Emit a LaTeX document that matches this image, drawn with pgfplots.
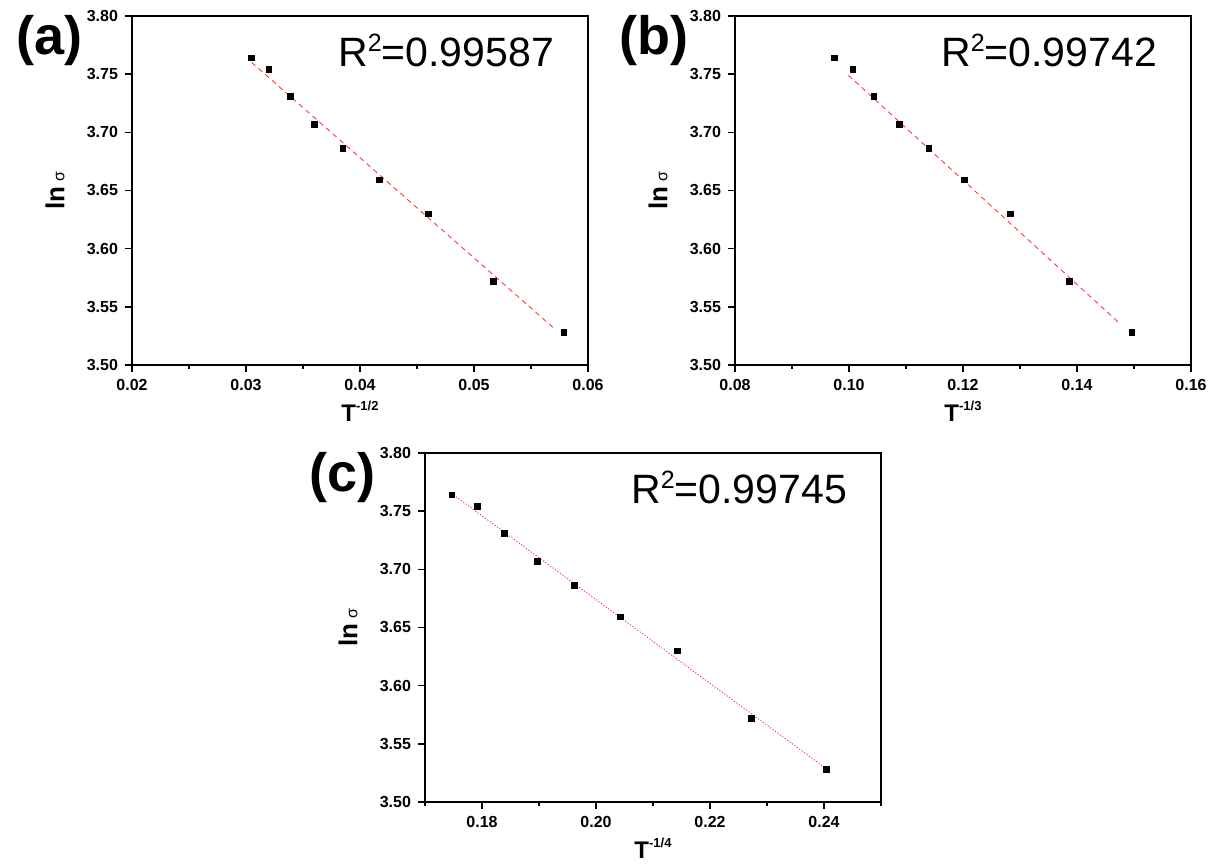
\documentclass[border=0pt]{standalone}
\usepackage{fontspec}
\setmainfont{Liberation Sans}
\usepackage{pgfplots}
\pgfplotsset{compat=1.18}

% shared look of the three panels
\pgfplotsset{
  panel/.style={
    scale only axis, width=228pt, height=174.5pt,
    ymin=3.50, ymax=3.80,
    ytick={3.50,3.55,3.60,3.65,3.70,3.75,3.80},
    scaled x ticks=false, scaled y ticks=false,
    axis line style={line width=0.8pt},
    tick align=outside, tick pos=left,
    major tick length=3.5pt, minor tick length=2pt,
    every tick/.style={black, line width=0.8pt},
    ticklabel style={font=\fontsize{8}{9}\selectfont\bfseries},
    /pgf/number format/assume math mode=true,
    /pgf/number format/fixed,
    /pgf/number format/fixed zerofill,
    /pgf/number format/precision=2,
    ylabel={{\fontsize{13}{15}\selectfont\bfseries ln} {\fontsize{8}{9}\selectfont σ}},
    ylabel style={at={(axis description cs:-0.169,0.5)}, anchor=center},
    xlabel style={at={(axis description cs:0.5,-0.162)}, anchor=base,
      font=\fontsize{12}{14}\selectfont\bfseries},
  },
  pts/.style={only marks, mark=square*, mark size=1.4pt, black},
  fit/.style={red!85, line width=0.4pt},
}
\newcommand{\rsq}[1]{\node[anchor=base west, font=\fontsize{20.5}{24}\selectfont]
  at (rel axis cs:0.437,0.855) {R\raisebox{0.36em}{\fontsize{12.5}{13}\selectfont 2}=#1};}

\begin{document}
\begin{tikzpicture}
\useasboundingbox (0,0) rectangle (608.5pt,432.5pt);

% (a)
\begin{axis}[panel, at={(66pt,250pt)}, anchor=south west,
  xmin=0.02, xmax=0.06,
  xtick={0.02,0.03,0.04,0.05,0.06},
  minor xtick={0.025,0.035,0.045,0.055},
  xlabel={T\raisebox{5.5pt}{\fontsize{6.5}{7}\selectfont -1/2}}]
  \addplot[fit, dash pattern=on 2.5pt off 2pt] coordinates {(0.0305,3.760) (0.0572,3.530)};
  \addplot[pts] coordinates {
    (0.0305,3.764) (0.0320,3.754) (0.0339,3.731) (0.0360,3.707) (0.0385,3.686)
    (0.0417,3.659) (0.0460,3.630) (0.0517,3.572) (0.0579,3.528)};
  \rsq{0.99587}
\end{axis}

% (b)
\begin{axis}[panel, at={(367.5pt,250pt)}, anchor=south west,
  xmin=0.08, xmax=0.16,
  xtick={0.08,0.10,0.12,0.14,0.16},
  minor xtick={0.09,0.11,0.13,0.15},
  xlabel={T\raisebox{5.5pt}{\fontsize{6.5}{7}\selectfont -1/3}}]
  \addplot[fit, dash pattern=on 2.5pt off 2pt] coordinates {(0.0999,3.749) (0.1472,3.537)};
  \addplot[pts] coordinates {
    (0.0974,3.764) (0.1007,3.754) (0.1044,3.731) (0.1088,3.707) (0.1140,3.686)
    (0.1202,3.659) (0.1283,3.630) (0.1387,3.572) (0.1496,3.528)};
  \rsq{0.99742}
\end{axis}

% (c)
\begin{axis}[panel, at={(212.5pt,31.5pt)}, anchor=south west,
  xmin=0.17, xmax=0.25,
  xtick={0.18,0.20,0.22,0.24},
  minor xtick={0.17,0.19,0.21,0.23,0.25},
  xlabel={T\raisebox{5.5pt}{\fontsize{6.5}{7}\selectfont -1/4}}]
  \addplot[fit, dash pattern=on 0.6pt off 0.9pt] coordinates {(0.1750,3.764) (0.2400,3.530)};
  \addplot[pts] coordinates {
    (0.1747,3.764) (0.1792,3.754) (0.1839,3.731) (0.1897,3.707) (0.1962,3.686)
    (0.2043,3.659) (0.2143,3.630) (0.2273,3.572) (0.2404,3.528)};
  \rsq{0.99745}
\end{axis}

% panel letters
\node[anchor=base west, font=\fontsize{27}{30}\selectfont\bfseries] at (4.5pt,405pt) {(a)};
\node[anchor=base west, font=\fontsize{27}{30}\selectfont\bfseries] at (306pt,405pt) {(b)};
\node[anchor=base west, font=\fontsize{27}{30}\selectfont\bfseries] at (151pt,186.5pt) {(c)};
\end{tikzpicture}
\end{document}
